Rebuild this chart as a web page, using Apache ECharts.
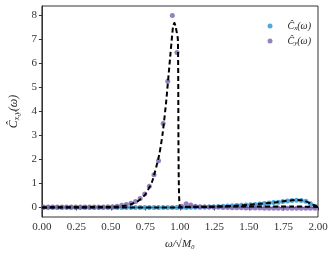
<!DOCTYPE html>
<html lang="en">
<head>
  <meta charset="UTF-8">
  <title>C hat spectrum</title>
  <script src='https://cdn.jsdelivr.net/npm/echarts@6/dist/echarts.min.js'></script>
  <style>
    body { margin: 0; background: #fff; }
  </style>
</head>
<body>
<div id="chart" style="width: 332px; height: 255px"></div>
<script>
  // sample grid of the measured points
  let omega = [];
  for (let k = 0; k < 60; k++) omega.push((k + 0.35) / 30);

  let cy = [0.02, 0.02, 0.02, 0.02, 0.02, 0.02, 0.02, 0.02, 0.02, 0.02,
    0.02, 0.02, 0.02, 0.02, 0.03, 0.03, 0.05, 0.09, 0.12, 0.17,
    0.25, 0.37, 0.56, 0.88, 1.36, 1.95, 3.5, 5.26, 8.0, 6.46,
    0.05, 0.15, 0.1, 0.05, 0.03, 0.02, 0.02, 0.01, 0.01, 0.0,
    0.0, -0.01, -0.01, -0.01, -0.02, -0.02, -0.02, -0.02, -0.03, -0.03,
    -0.03, -0.03, -0.03, -0.03, -0.03, -0.03, -0.03, -0.03, -0.03, -0.03];
  let cx = [0, 0, 0, 0, 0, 0, 0, 0, 0, 0,
    0, 0, 0, 0, 0, 0, 0, 0, 0, 0,
    0, 0, 0, 0, 0, 0, 0, 0, 0, 0,
    0, 0, 0.01, 0.01, 0.01, 0.02, 0.02, 0.03, 0.04, 0.05,
    0.06, 0.07, 0.08, 0.09, 0.1, 0.11, 0.12, 0.14, 0.16, 0.18,
    0.2, 0.22, 0.25, 0.27, 0.29, 0.3, 0.29, 0.26, 0.15, 0.05];

  // fitted curves (dashed)
  let fitYx = [0, 0.5, 0.55, 0.6, 0.65, 0.7, 0.75, 0.8, 0.85, 0.875, 0.9, 0.925, 0.95, 0.96, 0.97, 0.985, 1.0, 1.2, 1.5, 1.8, 2.0];
  let fitYv = [0, 0.02, 0.04, 0.07, 0.14, 0.28, 0.55, 1.1, 2.2, 3.1, 4.4, 6.0, 7.55, 7.7, 7.5, 7.0, 0.02, 0.03, 0.04, 0.04, 0.02];
  let fitXx = [0, 1.0, 1.1, 1.2, 1.3, 1.4, 1.5, 1.6, 1.7, 1.75, 1.8, 1.85, 1.9, 1.95, 2.0];
  let fitXv = [0, 0, 0.01, 0.02, 0.04, 0.07, 0.11, 0.16, 0.22, 0.26, 0.29, 0.31, 0.28, 0.15, 0.02];

  let yTicks = [0, 1, 2, 3, 4, 5, 6, 7, 8];

  const zip = (a, b) => a.map((v, i) => [v, b[i]]);
  const font = "'Liberation Serif', 'DejaVu Serif', serif";

  let chart = echarts.init(document.getElementById('chart'));
  let option = {
    animation: false,
    grid: {left: 32, right: 14, top: 6, bottom: 34, show: true, borderColor: '#333', borderWidth: 1},
    legend: {
      orient: 'vertical', right: 16, top: 15, itemGap: 3,
      itemWidth: 5, itemHeight: 5, icon: 'circle',
      data: ['cx', 'cy'],
      formatter: function (name) {
        return '{g|}{c|Ĉ}{s|' + (name === 'cx' ? 'x' : 'y') + '}{c|(ω)}';
      },
      textStyle: {
        fontFamily: font, color: '#222',
        rich: {
          g: {width: 10},
          c: {fontSize: 10, fontFamily: font, fontStyle: 'italic'},
          s: {fontSize: 7, fontFamily: font, fontStyle: 'italic', padding: [5, 0, 0, 0]}
        }
      }
    },
    xAxis: {
      type: 'value', min: 0, max: 2, interval: 0.25,
      name: 'ω/√M₀', nameLocation: 'middle', nameGap: 22,
      nameTextStyle: {fontFamily: font, fontSize: 11, color: '#222', fontStyle: 'italic'},
      axisLine: {lineStyle: {color: '#333'}},
      axisTick: {show: true, length: 3, lineStyle: {color: '#333'}},
      axisLabel: {fontFamily: font, fontSize: 11, color: '#333', margin: 5, showMaxLabel: true, showMinLabel: true,
        formatter: v => v.toFixed(2)},
      splitLine: {show: false}
    },
    yAxis: {
      type: 'value', min: -0.4, max: 8.4,
      name: '{c|Ĉ}{s|x,y}{c|(ω)}', nameLocation: 'middle', nameGap: 20, nameRotate: 90,
      nameTextStyle: {
        fontFamily: font, color: '#222',
        rich: {
          c: {fontSize: 12, fontFamily: font, fontStyle: 'italic'},
          s: {fontSize: 8, fontFamily: font, fontStyle: 'italic', padding: [5, 0, 0, 0]}
        }
      },
      axisLine: {show: true, lineStyle: {color: '#333'}},
      axisTick: {show: true, length: 3, customValues: yTicks, lineStyle: {color: '#333'}},
      axisLabel: {fontFamily: font, fontSize: 11, color: '#333', margin: 5, customValues: yTicks},
      splitLine: {show: false}
    },
    series: [
      {
        name: 'cx', type: 'scatter', data: zip(omega, cx), symbolSize: 5,
        itemStyle: {color: '#2196d3'}, z: 2
      },
      {
        name: 'cy', type: 'scatter', data: zip(omega, cy), symbolSize: 5,
        itemStyle: {color: '#7b62ad'}, z: 3
      },
      {
        name: 'fitY', type: 'line', data: zip(fitYx, fitYv), showSymbol: false, smooth: 0.2,
        lineStyle: {color: '#000', width: 2, type: [5, 3]}, z: 4
      },
      {
        name: 'fitX', type: 'line', data: zip(fitXx, fitXv), showSymbol: false, smooth: 0.3,
        lineStyle: {color: '#000', width: 2, type: [5, 3]}, z: 4
      }
    ]
  };
  chart.setOption(option);
</script>
</body>
</html>
